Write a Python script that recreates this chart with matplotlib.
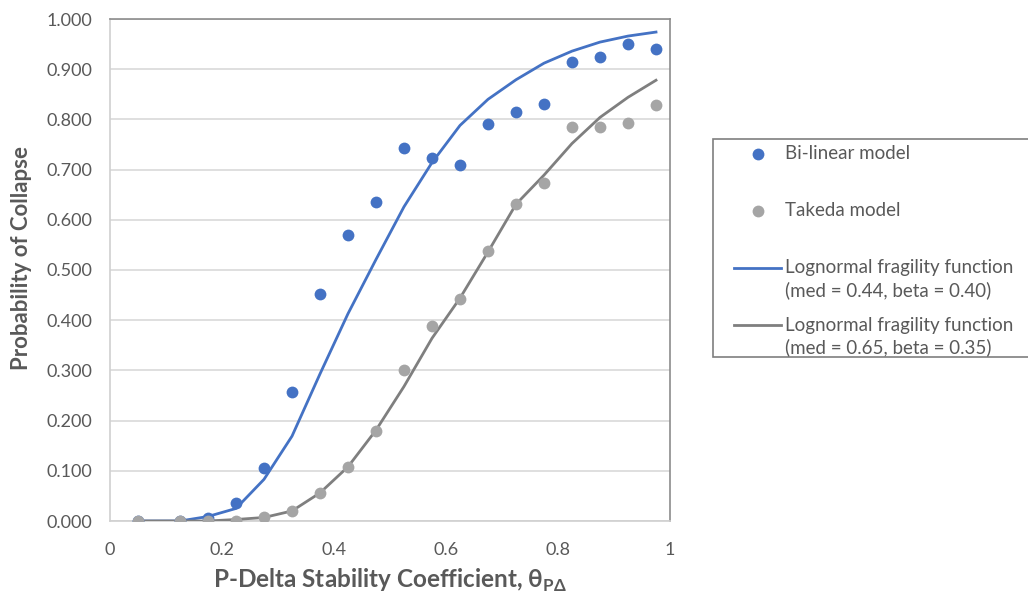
import matplotlib
matplotlib.use("Agg")
import matplotlib.pyplot as plt
from matplotlib.ticker import FuncFormatter, MultipleLocator
from matplotlib.lines import Line2D
from matplotlib.patches import Rectangle

# ---- data ----
theta = [0.05, 0.125, 0.175, 0.225, 0.275, 0.325, 0.375, 0.425, 0.475, 0.525,
         0.575, 0.625, 0.675, 0.725, 0.775, 0.825, 0.875, 0.925, 0.975]
bilinear = [0.000, 0.000, 0.005, 0.035, 0.106, 0.257, 0.452, 0.570, 0.636, 0.744,
            0.724, 0.709, 0.790, 0.815, 0.830, 0.915, 0.925, 0.950, 0.941]
takeda = [0.000, 0.000, 0.000, 0.000, 0.007, 0.019, 0.056, 0.108, 0.180, 0.301,
          0.389, 0.443, 0.537, 0.632, 0.674, 0.785, 0.785, 0.793, 0.829]
fit_bilinear = [0.000, 0.000, 0.009, 0.025, 0.083, 0.169, 0.293, 0.413, 0.521, 0.626,
                0.714, 0.788, 0.840, 0.879, 0.912, 0.936, 0.954, 0.966, 0.974]
fit_takeda = [0.000, 0.000, 0.000, 0.003, 0.007, 0.020, 0.056, 0.108, 0.181, 0.268,
              0.364, 0.444, 0.536, 0.631, 0.689, 0.752, 0.804, 0.844, 0.878]

labels = ["Bi-linear model", "Takeda model",
          ["Lognormal fragility function", "(med = 0.44, beta = 0.40)"],
          ["Lognormal fragility function", "(med = 0.65, beta = 0.35)"]]

BLUE = "#4472C4"
GRAY_PT = "#A5A5A5"
GRAY_LN = "#7F7F7F"
TXT = "#595959"

plt.rcParams['font.family'] = ['Lato', 'DejaVu Sans']
plt.rcParams['mathtext.fontset'] = 'custom'
plt.rcParams['mathtext.rm'] = 'Lato'
plt.rcParams['mathtext.bf'] = 'Lato:bold'

W, H = 1028, 600
fig = plt.figure(figsize=(W / 100, H / 100), dpi=100)
ax = fig.add_axes([110 / W, 1 - 521 / H, 560 / W, 502 / H])

l1, = ax.plot(theta, fit_bilinear, color=BLUE, lw=2.0, zorder=3)
l2, = ax.plot(theta, fit_takeda, color=GRAY_LN, lw=2.0, zorder=3)
s1, = ax.plot(theta, bilinear, 'o', color=BLUE, ms=8.5, mec='none', zorder=4)
s2, = ax.plot(theta, takeda, 'o', color=GRAY_PT, ms=8.5, mec='none', zorder=5)

ax.set_xlim(0, 1)
ax.set_ylim(0, 1)
ax.xaxis.set_major_locator(MultipleLocator(0.2))
ax.yaxis.set_major_locator(MultipleLocator(0.1))
ax.xaxis.set_major_formatter(FuncFormatter(lambda v, p: f"{v:g}"))
ax.yaxis.set_major_formatter(FuncFormatter(lambda v, p: f"{v:.3f}"))
ax.tick_params(length=0, labelsize=13, colors=TXT)
ax.tick_params(axis='y', pad=13)
ax.tick_params(axis='x', pad=15)
ax.grid(axis='y', color='#D9D9D9', lw=1.2, zorder=0)
ax.set_axisbelow(True)
for side in ['left', 'bottom']:
    ax.spines[side].set_color('#D0D0D0')
    ax.spines[side].set_linewidth(1.2)
for side in ['top', 'right']:
    ax.spines[side].set_color('#8C8C8C')
    ax.spines[side].set_linewidth(1.2)

# axis titles
fig.text(22 / W, 1 - 258 / H, "Probability of Collapse", rotation=90, fontsize=16,
         fontweight='bold', color=TXT, ha='center', va='center')
fig.text(390 / W, 1 - 588 / H, r"P-Delta Stability Coefficient, θ$_{\mathbf{P\Delta}}$",
         fontsize=17.5, fontweight='bold', color=TXT, ha='center', va='baseline')

# legend (drawn manually to mimic the spreadsheet layout)
fig.add_artist(Rectangle((713 / W, 1 - 357 / H), (1040 - 713) / W, (357 - 139) / H,
                         transform=fig.transFigure, facecolor='white',
                         edgecolor='#7F7F7F', lw=1.2, clip_on=False))
handles = [("marker", BLUE, 154), ("marker", GRAY_PT, 211),
           ("line", BLUE, 268), ("line", GRAY_LN, 325)]
for (kind, col, yy), lab in zip(handles, labels):
    yf = 1 - yy / H
    if kind == "marker":
        fig.add_artist(Line2D([758 / W], [yf], marker='o', ms=8.5, color=col, mec='none',
                              transform=fig.transFigure))
        fig.text(785 / W, yf, lab, fontsize=13.5, color=TXT, va='center', ha='left')
    else:
        fig.add_artist(Line2D([734 / W, 781 / W], [yf, yf], color=col, lw=2.0,
                              transform=fig.transFigure))
        fig.text(785 / W, yf, lab[0], fontsize=13.5, color=TXT, va='center', ha='left')
        fig.text(785 / W, 1 - (yy + 22) / H, lab[1], fontsize=13.5, color=TXT,
                 va='center', ha='left')

fig.savefig("out.png", dpi=100)
